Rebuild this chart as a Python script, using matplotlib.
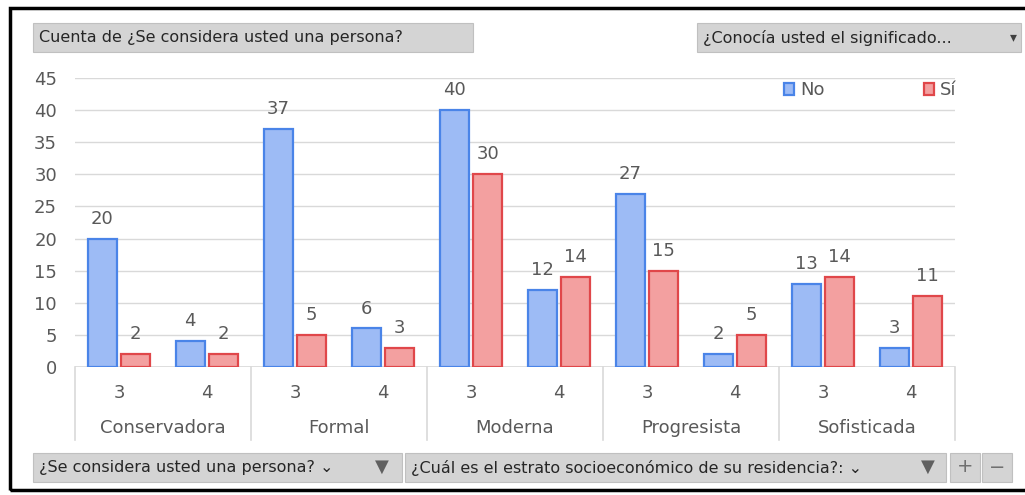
import matplotlib.pyplot as plt
from matplotlib.patches import Rectangle
import numpy as np

grupos = ["Conservadora", "Formal", "Moderna", "Progresista", "Sofisticada"]
estratos = ["3", "4"]
no_vals = [20, 4, 37, 6, 40, 12, 27, 2, 13, 3]
si_vals = [2, 2, 5, 3, 30, 14, 15, 5, 14, 11]
yticks = list(range(0, 50, 5))

W, H = 1025, 495
fig = plt.figure(figsize=(W / 100, H / 100), dpi=100)

def fx(px):
    return px / W

def fy(py):
    return 1 - py / H

def caja(x0, y0, x1, y1, texto=None, size=11.5, color='#d4d4d4'):
    fig.patches.append(Rectangle((fx(x0), fy(y1)), fx(x1 - x0), (y1 - y0) / H,
                                 transform=fig.transFigure, facecolor=color,
                                 edgecolor='#c0c0c0', lw=0.8))
    if texto:
        fig.text(fx(x0 + 6), fy((y0 + y1) / 2), texto, ha='left', va='center',
                 fontsize=size, color='#262626', family='DejaVu Sans')

# marco exterior
fig.patches.append(Rectangle((fx(10), fy(490)), fx(1040), 482 / H, transform=fig.transFigure,
                             facecolor='none', edgecolor='black', lw=2.5))

ax = fig.add_axes([fx(75), fy(367), fx(880), (367 - 78) / H])
x = np.arange(len(no_vals))
w = 0.33
off = 0.19
b1 = ax.bar(x - off, no_vals, w, color='#9dbbf5', edgecolor='#4a84e8', lw=1.6, label='No', zorder=3)
b2 = ax.bar(x + off, si_vals, w, color='#f3a0a0', edgecolor='#e0474a', lw=1.6, label='Sí', zorder=3)
for bars, vals in ((b1, no_vals), (b2, si_vals)):
    for r, v in zip(bars, vals):
        ax.text(r.get_x() + r.get_width() / 2, v + 1.7, str(v), ha='center', va='bottom',
                fontsize=13, color='#595959')

ax.set_ylim(0, 45)
ax.set_xlim(-0.5, len(no_vals) - 0.5)
ax.set_yticks(yticks)
ax.tick_params(axis='y', length=0, labelsize=13, labelcolor='#595959', pad=13)
ax.yaxis.grid(True, color='#d9d9d9', lw=1)
ax.set_axisbelow(True)
for s in ax.spines.values():
    s.set_visible(False)
ax.axhline(0, color='#d9d9d9', lw=1.2)
ax.set_xticks(x)
ax.set_xticklabels(estratos * len(grupos))
ax.tick_params(axis='x', length=0, labelsize=13, labelcolor='#595959', pad=12)

for i, g in enumerate(grupos):
    ax.text(2 * i + 0.5, -9.5, g, ha='center', va='center', fontsize=13, color='#595959')
for k in range(len(grupos) + 1):
    ax.plot([2 * k - 0.5] * 2, [0, -11.4], color='#d9d9d9', lw=1.2, clip_on=False)

ax.legend(loc='upper right', bbox_to_anchor=(1.02, 1.045), ncol=2, frameon=False, fontsize=13,
          labelcolor='#595959', handlelength=0.6, handleheight=0.6, handletextpad=0.3,
          columnspacing=5.5)

# botones de la tabla dinamica
caja(33, 23, 473, 52, 'Cuenta de ¿Se considera usted una persona?')
caja(697, 23, 1021, 52, '¿Conocía usted el significado...')
fig.text(fx(1013), fy(37), '▾', ha='center', va='center', fontsize=10, color='#404040')
caja(33, 453, 402, 482, '¿Se considera usted una persona? ⌄')
caja(405, 453, 946, 482, '¿Cuál es el estrato socioeconómico de su residencia?: ⌄')
fig.text(fx(382), fy(467), '▼', ha='center', va='center', fontsize=13, color='#606060')
fig.text(fx(928), fy(467), '▼', ha='center', va='center', fontsize=13, color='#606060')
caja(950, 453, 980, 482)
caja(982, 453, 1012, 482)
fig.text(fx(965), fy(467), '+', ha='center', va='center', fontsize=14, color='#707070')
fig.text(fx(997), fy(467), '−', ha='center', va='center', fontsize=14, color='#707070')

fig.savefig('out.png', dpi=100)
